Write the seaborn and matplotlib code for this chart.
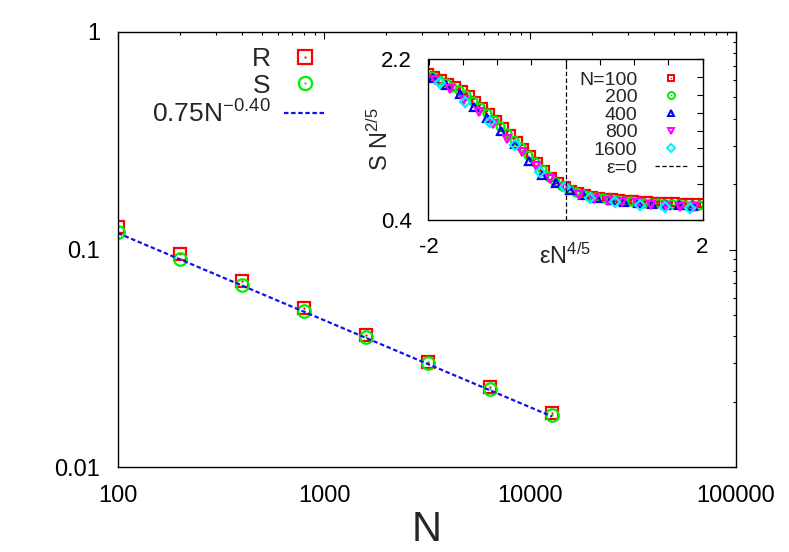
import numpy as np
import pandas as pd
import matplotlib
matplotlib.use("Agg")
import matplotlib.pyplot as plt
import seaborn as sns
from matplotlib.lines import Line2D
from matplotlib.legend_handler import HandlerTuple
from matplotlib.ticker import FixedLocator, FixedFormatter, NullFormatter, LogLocator

# ---------------- main panel data ----------------
N_values = [100, 200, 400, 800, 1600, 3200, 6400, 12800]
R_values = [0.127, 0.0951, 0.0716, 0.0537, 0.0405, 0.0305, 0.0234, 0.0178]
S_values = [0.120, 0.0901, 0.0687, 0.0521, 0.0394, 0.0300, 0.0228, 0.0174]
fit_prefactor = 0.75
fit_exponent = -0.40
main_xticks = [100, 1000, 10000, 100000]
main_xticklabels = ["100", "1000", "10000", "100000"]
main_yticks = [0.01, 0.1, 1]
main_yticklabels = ["0.01", "0.1", "1"]

# ---------------- inset data (S N^{2/5} vs eps N^{4/5}) ----------------
x_n100 = [-2.0, -1.9, -1.8, -1.7, -1.6, -1.5, -1.4, -1.3, -1.2, -1.1, -1.0,
          -0.9, -0.8, -0.7, -0.6, -0.5, -0.4, -0.3, -0.2, -0.1, 0.0,
          0.1, 0.2, 0.3, 0.4, 0.5, 0.6, 0.7, 0.8, 0.9, 1.0,
          1.1, 1.2, 1.3, 1.4, 1.5, 1.6, 1.7, 1.8, 1.9, 2.0]
y_n100 = [2.040, 2.008, 1.974, 1.937, 1.897, 1.855, 1.795, 1.730, 1.662, 1.591, 1.518,
          1.442, 1.364, 1.286, 1.207, 1.127, 1.045, 0.962, 0.885, 0.820, 0.775,
          0.740, 0.712, 0.690, 0.673, 0.660, 0.650, 0.641, 0.633, 0.626, 0.620,
          0.615, 0.610, 0.606, 0.602, 0.599, 0.596, 0.593, 0.591, 0.589, 0.587]
x_n200 = [-1.95, -1.85, -1.75, -1.65, -1.55, -1.45, -1.35, -1.25, -1.15, -1.05,
          -0.95, -0.85, -0.75, -0.65, -0.55, -0.45, -0.35, -0.25, -0.15, -0.05,
          0.05, 0.15, 0.25, 0.35, 0.45, 0.55, 0.65, 0.75, 0.85, 0.95,
          1.05, 1.15, 1.25, 1.35, 1.45, 1.55, 1.65, 1.75, 1.85, 1.95]
y_n200 = [2.005, 1.970, 1.932, 1.892, 1.848, 1.792, 1.730, 1.664, 1.594, 1.522,
          1.447, 1.370, 1.292, 1.212, 1.132, 1.050, 0.968, 0.890, 0.828, 0.783,
          0.743, 0.710, 0.686, 0.668, 0.653, 0.641, 0.631, 0.622, 0.614, 0.607,
          0.601, 0.595, 0.590, 0.585, 0.581, 0.577, 0.574, 0.571, 0.568, 0.566]
x_n400 = [-1.94, -1.74, -1.54, -1.34, -1.14, -0.94, -0.74, -0.54, -0.34, -0.14,
          0.06, 0.26, 0.46, 0.66, 0.86, 1.06, 1.26, 1.46, 1.66, 1.86]
y_n400 = [1.990, 1.905, 1.805, 1.665, 1.540, 1.400, 1.245, 1.060, 0.900, 0.810,
          0.735, 0.680, 0.645, 0.620, 0.603, 0.590, 0.580, 0.572, 0.566, 0.561]
x_n800 = [-1.90, -1.69, -1.48, -1.27, -1.06, -0.85, -0.64, -0.43, -0.22, -0.01,
          0.20, 0.41, 0.62, 0.83, 1.04, 1.25, 1.46, 1.67, 1.88]
y_n800 = [1.965, 1.860, 1.740, 1.610, 1.470, 1.310, 1.160, 1.000, 0.860, 0.760,
          0.675, 0.640, 0.618, 0.602, 0.585, 0.567, 0.557, 0.549, 0.543]
x_n1600 = [-1.83, -1.465, -1.10, -0.735, -0.37, -0.005, 0.36, 0.725, 1.09, 1.455, 1.82]
y_n1600 = [1.928, 1.723, 1.500, 1.238, 0.933, 0.773, 0.650, 0.605, 0.567, 0.541, 0.530]
inset_xticks = [-2, -1.5, -1, -0.5, 0, 0.5, 1, 1.5, 2]
inset_xticklabels = ["-2", "", "", "", "", "", "", "", "2"]
inset_yticks = [0.4, 0.6, 0.8, 1.0, 1.2, 1.4, 1.6, 1.8, 2.0, 2.2]
inset_yticklabels = ["0.4", "", "", "", "", "", "", "", "", "2.2"]
inset_labels = ["N=100", "200", "400", "800", "1600"]

# ---------------- style ----------------
sns.set_style("white")
plt.rcParams["font.family"] = ["Liberation Sans", "DejaVu Sans"]
plt.rcParams["mathtext.fontset"] = "custom"
plt.rcParams["mathtext.rm"] = "Liberation Sans"
plt.rcParams["mathtext.it"] = "Liberation Sans:italic"
plt.rcParams["axes.unicode_minus"] = False
plt.rcParams["axes.linewidth"] = 1.0
plt.rcParams["axes.edgecolor"] = "black"

W, H = 789, 552
fig = plt.figure(figsize=(W / 100, H / 100), dpi=100)
fig.patch.set_facecolor("white")

def fig_rect(l, t, r, b):
    return [l / W, 1 - b / H, (r - l) / W, (b - t) / H]

ax = fig.add_axes(fig_rect(118, 32, 736, 467))
ax.set_xscale("log")
ax.set_yscale("log")

RED, GREEN, BLUE, MAG, CYAN = "#ff0000", "#00ee00", "#0000ff", "#ff00ff", "#00eeff"
FITBLUE = "#1010f0"

fit_y = [fit_prefactor * n ** fit_exponent for n in N_values]
df_fit = pd.DataFrame({"N": N_values, "fit": fit_y})

def markers(axis, x, y, marker, color, ms, mew, dot_ms):
    d = pd.DataFrame({"x": x, "y": y})
    sns.lineplot(data=d, x="x", y="y", ax=axis, linestyle="", marker=marker,
                 markersize=ms, markerfacecolor="none", markeredgecolor=color,
                 markeredgewidth=mew, color=color, legend=False, errorbar=None)
    if dot_ms > 0:
        sns.lineplot(data=d, x="x", y="y", ax=axis, linestyle="", marker="o",
                     markersize=dot_ms, markerfacecolor=color, markeredgecolor=color,
                     markeredgewidth=0, color=color, legend=False, errorbar=None)

markers(ax, N_values, R_values, "s", RED, 9.0, 1.6, 1.6)
markers(ax, N_values, S_values, "o", GREEN, 9.0, 1.6, 1.6)
sns.lineplot(data=df_fit, x="N", y="fit", ax=ax, color=FITBLUE, linewidth=1.6,
             dashes=False, linestyle=(0, (2.0, 1.2)), legend=False, errorbar=None)

ax.set_xlim(100, 100000)
ax.set_ylim(0.01, 1)
ax.xaxis.set_major_locator(FixedLocator(main_xticks))
ax.xaxis.set_major_formatter(FixedFormatter(main_xticklabels))
ax.yaxis.set_major_locator(FixedLocator(main_yticks))
ax.yaxis.set_major_formatter(FixedFormatter(main_yticklabels))
ax.xaxis.set_minor_locator(LogLocator(base=10, subs=np.arange(2, 10)))
ax.yaxis.set_minor_locator(LogLocator(base=10, subs=np.arange(2, 10)))
ax.xaxis.set_minor_formatter(NullFormatter())
ax.yaxis.set_minor_formatter(NullFormatter())
ax.tick_params(which="both", direction="in", top=True, right=True, colors="black",
               labelsize=17, width=0.8)
ax.tick_params(which="major", length=5, pad=13)
ax.tick_params(which="minor", length=2.4)
ax.set_ylabel("")
ax.set_xlabel("N", fontsize=30, labelpad=2)
for s in ax.spines.values():
    s.set_visible(True)
    s.set_linewidth(1.0)
    s.set_color("black")

def mk_handle(marker, color, ms, mew, dot):
    h1 = Line2D([], [], linestyle="", marker=marker, markersize=ms, markerfacecolor="none",
                markeredgecolor=color, markeredgewidth=mew)
    h2 = Line2D([], [], linestyle="", marker="o", markersize=dot, markerfacecolor=color,
                markeredgecolor=color, markeredgewidth=0)
    return (h1, h2)

main_handles = [mk_handle("s", RED, 9.5, 1.6, 1.6), mk_handle("o", GREEN, 9.5, 1.6, 1.6),
                Line2D([], [], color=FITBLUE, linewidth=1.6, linestyle=(0, (2.0, 1.2)))]
main_labels = ["R", "S", "0.75N$^{\\mathregular{-0.40}}$"]
ax.legend(main_handles, main_labels, loc="upper left",
          bbox_to_anchor=(152 / W, 1 - 47 / H), bbox_transform=fig.transFigure,
          frameon=False, markerfirst=False, fontsize=19, handlelength=1.6,
          handletextpad=0.5, labelspacing=0.1, borderpad=0, borderaxespad=0,
          handler_map={tuple: HandlerTuple(ndivide=1)})

# ---------------- inset ----------------
axi = fig.add_axes(fig_rect(428.5, 59, 702.5, 220))
axi.set_facecolor("white")
series = [(x_n100, y_n100, "s", RED), (x_n200, y_n200, "o", GREEN),
          (x_n400, y_n400, "^", BLUE), (x_n800, y_n800, "v", MAG),
          (x_n1600, y_n1600, "D", CYAN)]
for xs, ys, m, c in series:
    ms = 5.8 if m != "D" else 4.8
    markers(axi, xs, ys, m, c, ms, 1.6, 1.0)
axi.axvline(0, color="black", linewidth=0.9, linestyle=(0, (3.5, 2.0)))
axi.set_xlim(-2, 2)
axi.set_ylim(0.4, 2.2)
axi.xaxis.set_major_locator(FixedLocator(inset_xticks))
axi.xaxis.set_major_formatter(FixedFormatter(inset_xticklabels))
axi.yaxis.set_major_locator(FixedLocator(inset_yticks))
axi.yaxis.set_major_formatter(FixedFormatter(inset_yticklabels))
axi.tick_params(which="major", direction="in", top=True, right=True, length=4,
                width=0.8, labelsize=16, pad=12, colors="black")
axi.set_xlabel("εN$^{\\mathregular{4/5}}$", fontsize=17)
axi.xaxis.set_label_coords(0.5, -0.15)
axi.set_ylabel("S N$^{\\mathregular{2/5}}$", fontsize=17)
axi.yaxis.set_label_coords(-0.13, 0.5)
for s in axi.spines.values():
    s.set_visible(True)
    s.set_linewidth(1.0)
    s.set_color("black")

inset_handles = [mk_handle(m, c, 5.0 if m != "D" else 4.2, 1.4, 1.0) for _, _, m, c in series]
inset_handles.append(Line2D([], [], color="black", linewidth=0.9, linestyle=(0, (3.5, 2.0))))
axi.legend(inset_handles, inset_labels + ["ε=0"], loc="upper right",
           bbox_to_anchor=(687 / W, 1 - 71 / H), bbox_transform=fig.transFigure,
           frameon=False, markerfirst=False, fontsize=14, handlelength=1.65,
           handletextpad=0.9, labelspacing=0.0, borderpad=0, borderaxespad=0,
           handler_map={tuple: HandlerTuple(ndivide=1)})

fig.savefig("out.png", dpi=100, facecolor="white")
